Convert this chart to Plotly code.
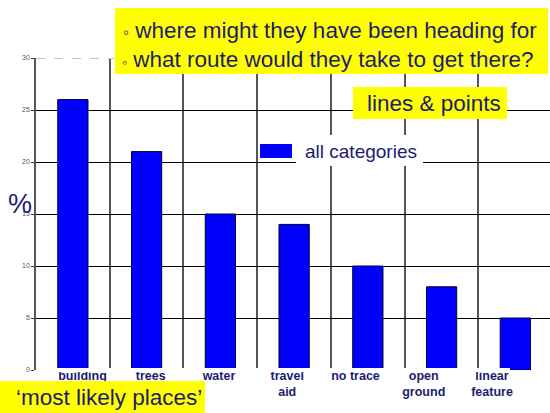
import plotly.graph_objects as go

categories = ["building", "trees", "water", "travel aid", "no trace", "open ground", "linear feature"]
tick_labels = ["building", "trees", "water", "travel<br>aid", "no trace", "open<br>ground", "linear<br>feature"]
values = [26, 21, 15, 14, 10, 8, 5]
y_ticks = [0, 5, 10, 15, 20, 25, 30]
series_name = "all categories"

NAVY = "#1c1c70"
YELLOW = "#ffff00"
FONT = "Liberation Sans, Arial, sans-serif"

W, H = 550, 413
ML, MR, MT, MB = 36, 0, 58, 43
PW, PH = W - ML - MR, H - MT - MB


def px(x):
    return (x - ML) / PW


def py(y):
    return (H - MB - y) / PH


fig = go.Figure()
fig.add_trace(go.Bar(
    x=categories, y=values, name=series_name,
    marker=dict(color="#0000ff", line=dict(color="#000033", width=1)),
    showlegend=False,
))
# helper trace so the label axis is drawn
fig.add_trace(go.Scatter(x=[], y=[], xaxis="x2", showlegend=False, hoverinfo="skip"))

shapes = [
    # dashed top line segment
    dict(type="line", xref="paper", yref="y", x0=0, x1=px(116), y0=30, y1=30,
         line=dict(color="white", width=2), layer="above"),
    dict(type="line", xref="paper", yref="y", x0=0, x1=px(116), y0=30, y1=30,
         line=dict(color="#888888", width=1, dash="dash"), layer="above"),
    # hide baseline behind category labels
    dict(type="rect", xref="paper", yref="paper", x0=px(44), x1=px(510), y0=py(372), y1=py(368),
         fillcolor="white", line=dict(width=0), layer="above"),
    # yellow boxes
    dict(type="rect", xref="paper", yref="paper", x0=px(115), x1=px(548), y0=py(74), y1=py(8),
         fillcolor=YELLOW, line=dict(width=0), layer="above"),
    dict(type="rect", xref="paper", yref="paper", x0=px(353), x1=px(507), y0=py(119), y1=py(87),
         fillcolor=YELLOW, line=dict(width=0), layer="above"),
    dict(type="rect", xref="paper", yref="paper", x0=px(0), x1=px(205), y0=py(413), y1=py(381),
         fillcolor=YELLOW, line=dict(width=0), layer="above"),
    # legend
    dict(type="rect", xref="paper", yref="paper", x0=px(296), x1=px(423), y0=py(166), y1=py(135),
         fillcolor="white", line=dict(width=0), layer="above"),
    dict(type="rect", xref="paper", yref="paper", x0=px(260), x1=px(292), y0=py(158), y1=py(144),
         fillcolor="#0000ff", line=dict(width=0), layer="above"),
]

annotations = [
    dict(text="<span style='font-size:17px'>◦</span> where might they have been heading for",
         x=px(121), y=py(30), xanchor="left", yanchor="middle"),
    dict(text="<span style='font-size:14px'>◦</span> what route would they take to get there?",
         x=px(120), y=py(60), xanchor="left", yanchor="middle"),
    dict(text="lines &amp; points", x=px(365), y=py(103), xanchor="left", yanchor="middle"),
    dict(text="‘most likely places’", x=px(14), y=py(397), xanchor="left", yanchor="middle"),
    dict(text=series_name, x=px(303), y=py(151), xanchor="left", yanchor="middle",
         font=dict(size=19, color=NAVY, family=FONT)),
    dict(text="%", x=px(19.5), y=py(204), xanchor="center", yanchor="middle",
         font=dict(size=27, color=NAVY, family=FONT)),
]
for a in annotations:
    a.setdefault("font", dict(size=22.5, color=NAVY, family=FONT))
    a.update(xref="paper", yref="paper", showarrow=False)

fig.update_layout(
    width=W, height=H,
    margin=dict(l=ML, r=MR, t=MT, b=MB, pad=0),
    paper_bgcolor="white", plot_bgcolor="white",
    bargap=0.59,
    font=dict(family=FONT, color=NAVY),
    xaxis=dict(
        type="category", range=[-0.5, 6.47], tickson="boundaries",
        showgrid=True, gridcolor="#555555", gridwidth=1.5,
        showticklabels=False, ticks="", showline=False, zeroline=False,
    ),
    xaxis2=dict(
        overlaying="x", anchor="y", side="bottom", range=[-0.681, 6.85],
        tickvals=list(range(len(categories))), ticktext=tick_labels,
        tickfont=dict(size=12.5, color=NAVY, family=FONT, weight="bold"),
        showgrid=False, zeroline=False, showline=False, ticks="",
        ticklabelstandoff=-4,
    ),
    yaxis=dict(
        range=[0, 30], tickvals=y_ticks, ticktext=[str(v) for v in y_ticks],
        tickfont=dict(size=7, color="#555555", family=FONT),
        ticks="outside", ticklen=3, tickcolor="#333333",
        showgrid=True, gridcolor="#000000", gridwidth=1,
        showline=True, linecolor="#555555", linewidth=1.5, zeroline=False,
    ),
    shapes=shapes,
    annotations=annotations,
)

fig.write_html(
    "out.html",
    config={"displayModeBar": False},
    post_script="document.body.style.margin='0px';document.body.style.overflow='hidden';",
)
